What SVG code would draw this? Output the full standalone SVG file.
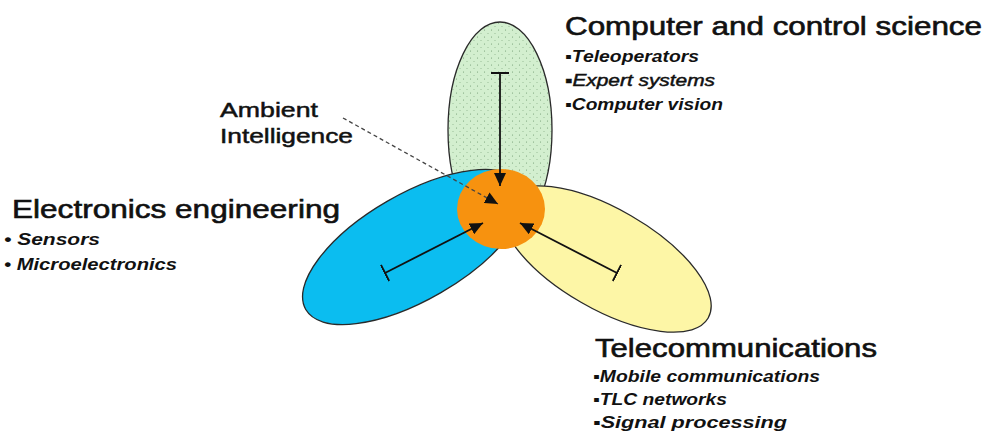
<svg xmlns="http://www.w3.org/2000/svg" width="987" height="433" viewBox="0 0 987 433">
<style>
.t{font-family:"Liberation Sans",Arial,sans-serif;fill:#111}
.h{font-size:25px;stroke:#111;stroke-width:0.6}
.b{font-size:16px;font-style:italic;font-weight:bold}
.bn{font-size:16px;font-style:italic;stroke:#111;stroke-width:0.45}
.a{font-size:21px;stroke:#111;stroke-width:0.5}
.lobe{stroke:#2a2a2a;stroke-width:1.3}
.arr{stroke:#111;stroke-width:1.8;fill:none}
</style>
<defs>
<pattern id="stip" width="7" height="7" patternUnits="userSpaceOnUse">
<rect width="7" height="7" fill="#d3efcf"/>
<circle cx="1.5" cy="2" r="0.55" fill="#6f9a70"/>
<circle cx="5" cy="5.5" r="0.5" fill="#86ad86"/>
</pattern>
<marker id="ah" markerUnits="userSpaceOnUse" markerWidth="14" markerHeight="12" refX="13" refY="6" orient="auto">
<path d="M0,0 L13,6 L0,12 z" fill="#111"/>
</marker>
<marker id="tb" markerUnits="userSpaceOnUse" markerWidth="4" markerHeight="20" refX="1" refY="10" orient="auto">
<path d="M1,1 L1,19" stroke="#111" stroke-width="2"/>
</marker>
</defs>
<rect width="987" height="433" fill="#ffffff"/>
<g id="computer-lobe">
<ellipse class="lobe" cx="500" cy="130" rx="52" ry="108" fill="url(#stip)"/>
</g>
<g id="telecom-lobe">
<ellipse class="lobe" cx="606" cy="259" rx="118" ry="50" transform="rotate(30 606 259)" fill="#fdf6a6"/>
</g>
<g id="electronics-lobe">
<ellipse class="lobe" cx="414" cy="247" rx="125" ry="53" transform="rotate(-30 414 247)" fill="#0bbdf0"/>
</g>
<g id="ambient-core">
<ellipse cx="501" cy="209" rx="44" ry="40" fill="#f7920f"/>
</g>
<g id="connectors">
<line class="arr" x1="500" y1="73" x2="500" y2="186" marker-start="url(#tb)" marker-end="url(#ah)"/>
<line class="arr" x1="385" y1="273" x2="483" y2="223" marker-start="url(#tb)" marker-end="url(#ah)"/>
<line class="arr" x1="617" y1="273" x2="520" y2="223" marker-start="url(#tb)" marker-end="url(#ah)"/>
<line x1="343" y1="118" x2="498" y2="204" stroke="#444" stroke-width="1.3" stroke-dasharray="4 3" marker-end="url(#ah)"/>
</g>
<g id="computer-label">
<text class="t h" x="565" y="35" textLength="417" lengthAdjust="spacingAndGlyphs">Computer and control science</text>
<text class="t b" x="565" y="62" textLength="134" lengthAdjust="spacingAndGlyphs">▪Teleoperators</text>
<text class="t bn" x="565" y="86" textLength="150" lengthAdjust="spacingAndGlyphs">▪Expert systems</text>
<text class="t b" x="565" y="110" textLength="158" lengthAdjust="spacingAndGlyphs">▪Computer vision</text>
</g>
<g id="electronics-label">
<text class="t h" x="12" y="218" textLength="328" lengthAdjust="spacingAndGlyphs">Electronics engineering</text>
<text class="t b" x="4" y="245" textLength="96" lengthAdjust="spacingAndGlyphs">• Sensors</text>
<text class="t b" x="4" y="270" textLength="173" lengthAdjust="spacingAndGlyphs">• Microelectronics</text>
</g>
<g id="telecom-label">
<text class="t h" x="595" y="357" textLength="282" lengthAdjust="spacingAndGlyphs">Telecommunications</text>
<text class="t b" x="593" y="382" textLength="227" lengthAdjust="spacingAndGlyphs">▪Mobile communications</text>
<text class="t b" x="593" y="405" textLength="134" lengthAdjust="spacingAndGlyphs">▪TLC networks</text>
<text class="t b" x="593" y="428" textLength="194" lengthAdjust="spacingAndGlyphs">▪Signal processing</text>
</g>
<g id="ambient-label">
<text class="t a" x="220" y="117" textLength="98" lengthAdjust="spacingAndGlyphs">Ambient</text>
<text class="t a" x="220" y="143" textLength="133" lengthAdjust="spacingAndGlyphs">Intelligence</text>
</g>
</svg>
